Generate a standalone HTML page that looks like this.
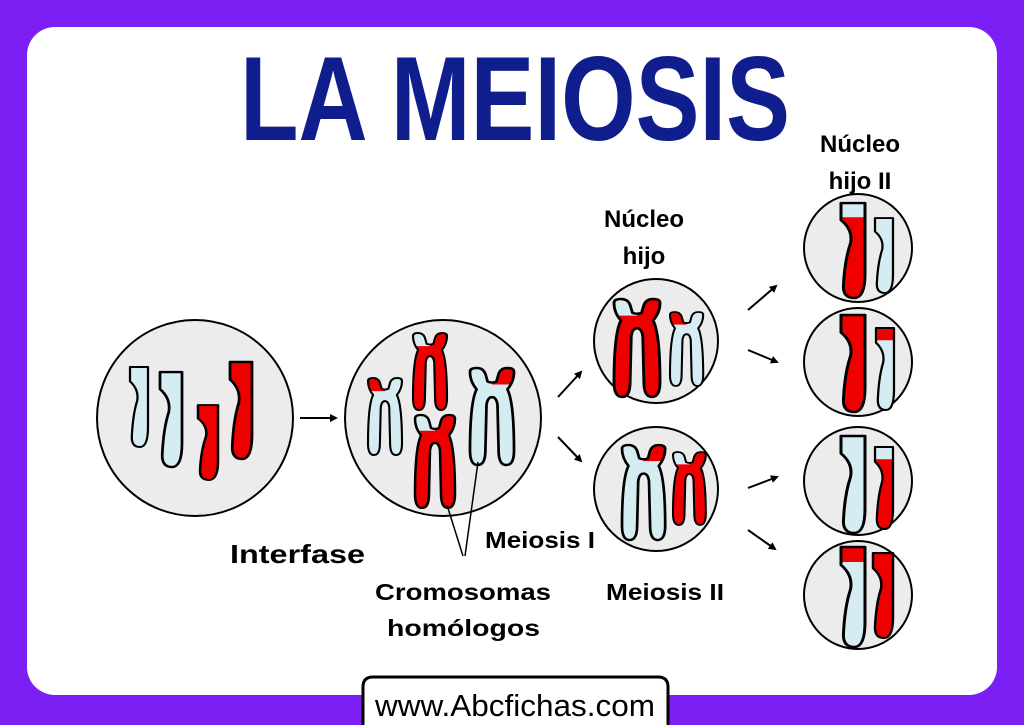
<!DOCTYPE html>
<html><head><meta charset="utf-8"><style>
html,body{margin:0;padding:0;background:#7b1ff5;}
svg{display:block;}
text{font-family:"Liberation Sans",sans-serif;font-weight:bold;}
</style></head><body>
<svg width="1024" height="725" viewBox="0 0 1024 725" xmlns="http://www.w3.org/2000/svg">
<defs>
<path id="X" d="M0,4 Q0,0 6,0 Q12,0 14,6 L16,14 Q20,16 24,14 L26,6 Q28,0 34,0 Q40,0 40,4 Q40,14 34,22 Q40,35 40,85 Q40,100 33,100 Q26,100 26,85 L25,38 Q24,30 20,30 Q16,30 15,38 L14,85 Q14,100 7,100 Q0,100 0,85 Q0,35 6,22 Q0,14 0,4 Z"/>
<path id="S" d="M0,0 H20 V75 Q20,100 11,100 Q2,100 2,88 Q3,60 8,42 Q10,28 0,18 Z"/>
<clipPath id="LT"><rect x="-5" y="-5" width="25" height="22"/></clipPath>
<clipPath id="RT"><rect x="20" y="-5" width="25" height="22"/></clipPath>
<clipPath id="T15"><rect x="-5" y="-5" width="30" height="20"/></clipPath>
<marker id="ah" markerWidth="8" markerHeight="8" refX="6" refY="4" orient="auto" markerUnits="userSpaceOnUse"><path d="M0,0 L8,4 L0,8 Z" fill="#000"/></marker>
</defs>
<rect x="0" y="0" width="1024" height="725" fill="#7b1ff5"/>
<rect x="27" y="27" width="970" height="668" rx="28" fill="#fff"/>
<text x="240" y="140" font-size="120" fill="#0f1e8c" textLength="550" lengthAdjust="spacingAndGlyphs">LA MEIOSIS</text>

<g stroke="#000" stroke-width="2" fill="#ececec">
<circle cx="195" cy="418" r="98"/>
<circle cx="443" cy="418" r="98"/>
<circle cx="656" cy="341" r="62"/>
<circle cx="656" cy="489" r="62"/>
<circle cx="858" cy="248" r="54"/>
<circle cx="858" cy="362" r="54"/>
<circle cx="858" cy="481" r="54"/>
<circle cx="858" cy="595" r="54"/>
</g>

<g stroke="#000" stroke-width="2.5" stroke-linejoin="round">
<use href="#S" transform="translate(130,367) scale(0.9,0.8)" fill="#d6ecf3"/>
<use href="#S" transform="translate(160,372) scale(1.1,0.95)" fill="#d6ecf3"/>
<use href="#S" transform="translate(198,405) scale(1,0.75)" fill="#e00"/>
<use href="#S" transform="translate(230,362) scale(1.1,0.97)" fill="#e00"/>
</g>

<g stroke="#000" stroke-width="2.5" stroke-linejoin="round">
<g transform="translate(368,378) scale(0.85,0.77)"><use href="#X" fill="#d6ecf3" stroke="none"/><use href="#X" fill="#e00" stroke="none" clip-path="url(#LT)"/><use href="#X" fill="none"/></g>
<g transform="translate(413,333) scale(0.85,0.77)"><use href="#X" fill="#e00" stroke="none"/><use href="#X" fill="#d6ecf3" stroke="none" clip-path="url(#LT)"/><use href="#X" fill="none"/></g>
<g transform="translate(415,415) scale(1,0.93)"><use href="#X" fill="#e00" stroke="none"/><use href="#X" fill="#d6ecf3" stroke="none" clip-path="url(#LT)"/><use href="#X" fill="none"/></g>
<g transform="translate(470,368) scale(1.1,0.97)"><use href="#X" fill="#d6ecf3" stroke="none"/><use href="#X" fill="#e00" stroke="none" clip-path="url(#RT)"/><use href="#X" fill="none"/></g>
<g transform="translate(614,299) scale(1.15,0.98)"><use href="#X" fill="#e00" stroke="none"/><use href="#X" fill="#d6ecf3" stroke="none" clip-path="url(#LT)"/><use href="#X" fill="none"/></g>
<g transform="translate(670,312) scale(0.83,0.74)"><use href="#X" fill="#d6ecf3" stroke="none"/><use href="#X" fill="#e00" stroke="none" clip-path="url(#LT)"/><use href="#X" fill="none"/></g>
<g transform="translate(622,445) scale(1.08,0.95)"><use href="#X" fill="#d6ecf3" stroke="none"/><use href="#X" fill="#e00" stroke="none" clip-path="url(#RT)"/><use href="#X" fill="none"/></g>
<g transform="translate(673,452) scale(0.82,0.73)"><use href="#X" fill="#e00" stroke="none"/><use href="#X" fill="#d6ecf3" stroke="none" clip-path="url(#LT)"/><use href="#X" fill="none"/></g>
</g>

<g stroke="#000" stroke-width="2.5" stroke-linejoin="round">
<g transform="translate(841,203) scale(1.2,0.95)"><use href="#S" fill="#e00" stroke="none"/><use href="#S" fill="#d6ecf3" stroke="none" clip-path="url(#T15)"/><use href="#S" fill="none"/></g>
<g transform="translate(875,218) scale(0.9,0.75)"><use href="#S" fill="#d6ecf3"/></g>
<g transform="translate(841,315) scale(1.2,0.97)"><use href="#S" fill="#e00"/></g>
<g transform="translate(876,328) scale(0.9,0.82)"><use href="#S" fill="#d6ecf3" stroke="none"/><use href="#S" fill="#e00" stroke="none" clip-path="url(#T15)"/><use href="#S" fill="none"/></g>
<g transform="translate(841,436) scale(1.2,0.97)"><use href="#S" fill="#d6ecf3"/></g>
<g transform="translate(875,447) scale(0.9,0.82)"><use href="#S" fill="#e00" stroke="none"/><use href="#S" fill="#d6ecf3" stroke="none" clip-path="url(#T15)"/><use href="#S" fill="none"/></g>
<g transform="translate(841,547) scale(1.2,1)"><use href="#S" fill="#d6ecf3" stroke="none"/><use href="#S" fill="#e00" stroke="none" clip-path="url(#T15)"/><use href="#S" fill="none"/></g>
<g transform="translate(873,553) scale(1,0.85)"><use href="#S" fill="#e00"/></g>
</g>

<g stroke="#000" stroke-width="2" marker-end="url(#ah)">
<line x1="300" y1="418" x2="336" y2="418"/>
<line x1="558" y1="397" x2="581" y2="372"/>
<line x1="558" y1="437" x2="581" y2="461"/>
<line x1="748" y1="310" x2="776" y2="286"/>
<line x1="748" y1="350" x2="777" y2="362"/>
<line x1="748" y1="488" x2="777" y2="477"/>
<line x1="748" y1="530" x2="775" y2="549"/>
</g>
<g stroke="#000" stroke-width="1.5">
<line x1="447" y1="505" x2="463" y2="556"/>
<line x1="478" y1="462" x2="465" y2="556"/>
</g>

<text x="230" y="563" font-size="26" textLength="135" lengthAdjust="spacingAndGlyphs">Interfase</text>
<text x="485" y="548" font-size="23" textLength="110" lengthAdjust="spacingAndGlyphs">Meiosis I</text>
<text x="375" y="600" font-size="23" textLength="176" lengthAdjust="spacingAndGlyphs">Cromosomas</text>
<text x="387" y="636" font-size="23" textLength="153" lengthAdjust="spacingAndGlyphs">homólogos</text>
<text x="606" y="600" font-size="23" textLength="118" lengthAdjust="spacingAndGlyphs">Meiosis II</text>
<text x="644" y="227" font-size="24" text-anchor="middle">Núcleo</text>
<text x="644" y="264" font-size="24" text-anchor="middle">hijo</text>
<text x="860" y="152" font-size="24" text-anchor="middle">Núcleo</text>
<text x="860" y="189" font-size="24" text-anchor="middle">hijo II</text>

<path d="M363,727 V687 Q363,677 373,677 H658 Q668,677 668,687 V727 Z" fill="#fff" stroke="#000" stroke-width="3"/>
<text x="515" y="716" font-size="31" text-anchor="middle" textLength="280" lengthAdjust="spacingAndGlyphs" style="font-weight:normal">www.Abcfichas.com</text>
</svg>
</body></html>
